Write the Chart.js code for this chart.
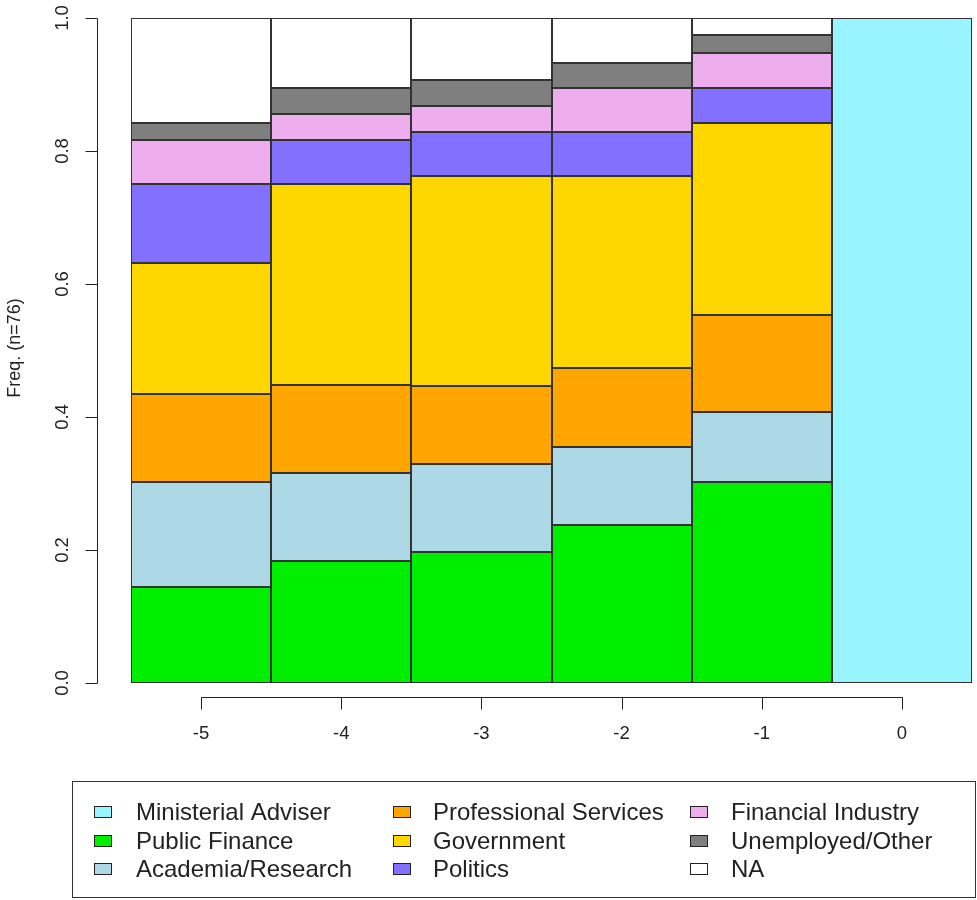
<!DOCTYPE html>
<html>
<head>
<meta charset="utf-8">
<script src="https://cdn.jsdelivr.net/npm/chart.js@4"></script>
<style>
  body { margin: 0; background: #fff; }
  #wrap { width: 977px; height: 900px; }
</style>
</head>
<body>
<div id="wrap"><canvas id="chart" width="977" height="900"></canvas></div>
<script>
// years relative to becoming adviser
const categories = ['-5', '-4', '-3', '-2', '-1', '0'];

// share of advisers (n=76) in each career category
const ministerialAdviser   = [0,     0,     0,     0,     0,     1.0];
const publicFinance        = [0.145, 0.184, 0.197, 0.237, 0.303, 0];
const academiaResearch     = [0.158, 0.132, 0.132, 0.118, 0.105, 0];
const professionalServices = [0.132, 0.132, 0.118, 0.118, 0.145, 0];
const government           = [0.197, 0.303, 0.316, 0.289, 0.289, 0];
const politics             = [0.118, 0.066, 0.066, 0.066, 0.053, 0];
const financialIndustry    = [0.066, 0.039, 0.039, 0.066, 0.053, 0];
const unemployedOther      = [0.026, 0.039, 0.039, 0.039, 0.026, 0];
const notAvailable         = [0.158, 0.105, 0.093, 0.067, 0.026, 0];

const yTickValues = [0, 0.2, 0.4, 0.6, 0.8, 1.0];
const yTickLabels = ['0.0', '0.2', '0.4', '0.6', '0.8', '1.0'];
const yTitle = 'Freq. (n=76)';

const series = [
  { label: 'Ministerial Adviser',   data: ministerialAdviser,   color: '#98F5FF' },
  { label: 'Public Finance',        data: publicFinance,        color: '#00EE00' },
  { label: 'Academia/Research',     data: academiaResearch,     color: '#ADD8E6' },
  { label: 'Professional Services', data: professionalServices, color: '#FFA500' },
  { label: 'Government',            data: government,           color: '#FFD700' },
  { label: 'Politics',              data: politics,             color: '#8470FF' },
  { label: 'Financial Industry',    data: financialIndustry,    color: '#EEAEEE' },
  { label: 'Unemployed/Other',      data: unemployedOther,      color: '#7F7F7F' },
  { label: 'NA',                    data: notAvailable,         color: '#FFFFFF' }
];

const FONT = '"Liberation Sans", Arial, sans-serif';
const INK = '#222';

// black outline around every segment, like R's barplot
const outlines = {
  id: 'outlines',
  afterDatasetsDraw(chart) {
    const ctx = chart.ctx;
    ctx.save();
    ctx.strokeStyle = '#333';
    ctx.lineWidth = 1;
    chart.data.datasets.forEach((ds, i) => {
      chart.getDatasetMeta(i).data.forEach((bar, j) => {
        if (!ds.data[j]) return;
        const p = bar.getProps(['x', 'y', 'base', 'width'], true);
        const l = Math.round(p.x - p.width / 2) + 0.5;
        const r = Math.round(p.x + p.width / 2) - 0.5;
        const t = Math.round(p.y) + 0.5;
        const b = Math.round(p.base) - 0.5;
        ctx.strokeRect(l, t, r - l, b - t);
      });
    });
    ctx.restore();
  }
};

// detached R-style axes
const rAxes = {
  id: 'rAxes',
  afterDraw(chart) {
    const ctx = chart.ctx;
    const xs = chart.scales.x, ys = chart.scales.y;
    ctx.save();
    ctx.strokeStyle = '#222';
    ctx.fillStyle = INK;
    ctx.lineWidth = 1;

    // y axis
    const ax = 97.5;
    ctx.beginPath();
    ctx.moveTo(ax, Math.round(ys.getPixelForValue(0)) + 0.5);
    ctx.lineTo(ax, Math.round(ys.getPixelForValue(1)) + 0.5);
    yTickValues.forEach(v => {
      const py = Math.round(ys.getPixelForValue(v)) + 0.5;
      ctx.moveTo(ax, py);
      ctx.lineTo(ax - 12, py);
    });
    ctx.stroke();
    ctx.font = '18.5px ' + FONT;
    ctx.textAlign = 'center';
    ctx.textBaseline = 'middle';
    yTickValues.forEach((v, i) => {
      const py = ys.getPixelForValue(v);
      ctx.save();
      ctx.translate(63, py);
      ctx.rotate(-Math.PI / 2);
      ctx.fillText(yTickLabels[i], 0, 0);
      ctx.restore();
    });
    ctx.save();
    ctx.font = '18px ' + FONT;
    ctx.translate(15, 348);
    ctx.rotate(-Math.PI / 2);
    ctx.fillText(yTitle, 0, 0);
    ctx.restore();

    // x axis
    const ay = 697.5;
    ctx.beginPath();
    ctx.moveTo(Math.round(xs.getPixelForValue(0)) + 0.5, ay);
    ctx.lineTo(Math.round(xs.getPixelForValue(categories.length - 1)) + 0.5, ay);
    categories.forEach((c, i) => {
      const px = Math.round(xs.getPixelForValue(i)) + 0.5;
      ctx.moveTo(px, ay);
      ctx.lineTo(px, ay + 12);
    });
    ctx.stroke();
    ctx.font = '18.5px ' + FONT;
    categories.forEach((c, i) => {
      ctx.fillText(c, xs.getPixelForValue(i), 734);
    });
    ctx.restore();
  }
};

// boxed legend filled column by column
const boxLegend = {
  id: 'boxLegend',
  afterDraw(chart) {
    const ctx = chart.ctx;
    ctx.save();
    ctx.strokeStyle = '#333';
    ctx.lineWidth = 1;
    ctx.strokeRect(72.5, 781.5, 903, 116);
    const colX = [94, 393, 690];
    const textX = [136, 433, 731];
    const rowY = [812, 841, 869];
    ctx.font = '24px ' + FONT;
    ctx.textAlign = 'left';
    ctx.textBaseline = 'middle';
    chart.data.datasets.forEach((ds, i) => {
      const c = Math.floor(i / 3), r = i % 3;
      const y = rowY[r];
      ctx.fillStyle = ds.backgroundColor;
      ctx.fillRect(colX[c], y - 6, 18, 12);
      ctx.strokeStyle = '#222';
      ctx.strokeRect(colX[c] + 0.5, y - 5.5, 17, 11);
      ctx.fillStyle = INK;
      ctx.fillText(ds.label, textX[c], y + 1);
    });
    ctx.restore();
  }
};

new Chart(document.getElementById('chart'), {
  type: 'bar',
  data: {
    labels: categories,
    datasets: series.map(s => ({
      label: s.label,
      data: s.data,
      backgroundColor: s.color,
      borderWidth: 0,
      barPercentage: 1,
      categoryPercentage: 1
    }))
  },
  options: {
    responsive: false,
    animation: false,
    devicePixelRatio: 1,
    layout: { padding: { left: 131, right: 5, top: 18, bottom: 217 } },
    plugins: { legend: { display: false }, tooltip: { enabled: false } },
    scales: {
      x: { stacked: true, display: false },
      y: { stacked: true, display: false, min: 0, max: 1 }
    }
  },
  plugins: [outlines, rAxes, boxLegend]
});
</script>
</body>
</html>
